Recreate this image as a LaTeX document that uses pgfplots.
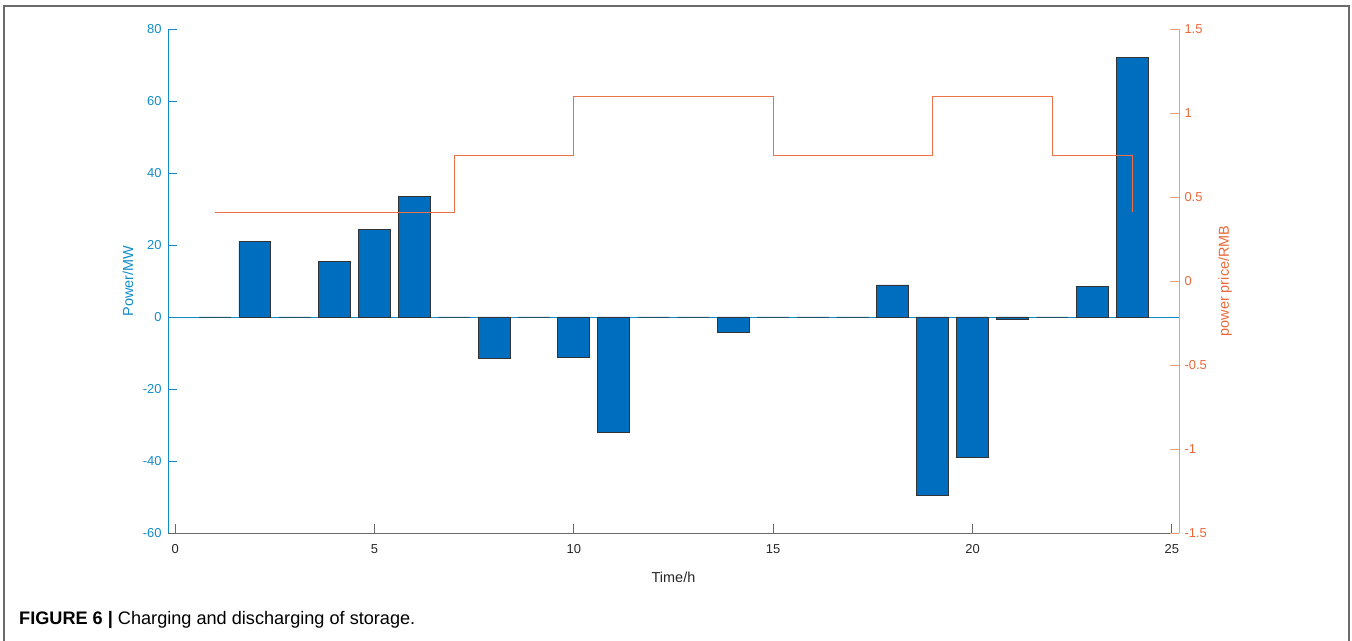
\documentclass[border=0pt]{standalone}
\usepackage{pgfplots}
\pgfplotsset{compat=1.18}
\usepackage{fontspec}
\setmainfont{Liberation Sans}

\definecolor{leftax}{RGB}{16,140,200}
\definecolor{rightax}{RGB}{234,104,58}
\definecolor{rightline}{RGB}{236,160,128}
\definecolor{barblue}{RGB}{0,110,190}
\definecolor{priceline}{RGB}{236,112,72}
\definecolor{xgrey}{RGB}{105,105,105}

% storage power per hour (MW)
\pgfplotstableread{
t  p
1  0
2  21.0
3  0
4  15.5
5  24.4
6  33.5
7  0
8  -11.6
9  0
10 -11.3
11 -32.0
12 0
13 0
14 -4.3
15 0
16 0
17 0
18 8.9
19 -49.6
20 -39.1
21 -0.6
22 0
23 8.6
24 72.2
}\powertab

% time-of-use price (RMB), step changes
\pgfplotstableread{
t  c
1  0.41
7  0.75
10 1.10
15 0.75
19 1.10
22 0.75
24 0.41
}\pricetab

\begin{document}
\begin{tikzpicture}[x=1bp,y=1bp]
\useasboundingbox (0,0) rectangle (1352,641);
\draw[black!58, line width=1.3bp] (4,0) -- (4,635) -- (1349,635) -- (1349,0);
\node[anchor=base west, inner sep=0pt, font=\fontsize{18.2}{21}\selectfont] at (19,16)
  {\textbf{FIGURE 6 |} Charging and discharging of storage.};

\pgfplotsset{common/.style={
  at={(168bp,108bp)}, anchor=south west, scale only axis,
  width=1011bp, height=504bp, xmin=-0.18, xmax=25.18,
  tick align=inside, major tick length=9bp,
  /pgf/number format/assume math mode=true,
  tick label style={font=\fontsize{13}{15}\selectfont},
  label style={font=\fontsize{14.5}{17}\selectfont},
}}

\begin{axis}[common,
  ymin=-60, ymax=80,
  axis x line*=bottom, axis y line*=left,
  x axis line style={draw=xgrey, line width=0.9bp, -},
  y axis line style={draw=leftax, line width=0.9bp, -},
  xtick={0,5,10,15,20,25},
  xticklabels={0,5,10,15,20,25},
  xtick style={draw=xgrey, line width=0.9bp},
  xticklabel style={text=black!85, yshift=-8bp},
  ytick={-60,-40,-20,0,20,40,60,80},
  yticklabels={-60,-40,-20,0,20,40,60,80},
  ytick style={draw=leftax, line width=0.9bp},
  yticklabel style={text=leftax, xshift=-3bp},
  xlabel={Time/h},
  xlabel style={text=black!85, at={(axis description cs:0.5,-0.087)}, anchor=center},
  ylabel={Power/MW},
  ylabel style={text=leftax, at={(axis description cs:-0.0396,0.5)}, anchor=center},
]
\addplot[leftax, line width=0.9bp, forget plot] coordinates {(-0.18,0) (25.18,0)};
\addplot[ybar, bar width=0.8, fill=barblue, draw=black!80, line width=0.8bp]
  table[x=t, y=p] {\powertab};
\end{axis}

\begin{axis}[common,
  ymin=-1.5, ymax=1.5,
  axis x line=none, axis y line*=right,
  y axis line style={draw=rightline, line width=0.9bp, -},
  ytick={-1.5,-1,-0.5,0,0.5,1,1.5},
  yticklabels={-1.5,-1,-0.5,0,0.5,1,1.5},
  ytick style={draw=rightline, line width=0.9bp},
  yticklabel style={text=rightax, xshift=2bp},
  ylabel={power price/RMB},
  ylabel style={text=rightax, at={(axis description cs:1.0455,0.5)}, anchor=center},
]
\addplot[const plot, priceline, line width=0.9bp] table[x=t, y=c] {\pricetab};
\end{axis}
\end{tikzpicture}
\end{document}
